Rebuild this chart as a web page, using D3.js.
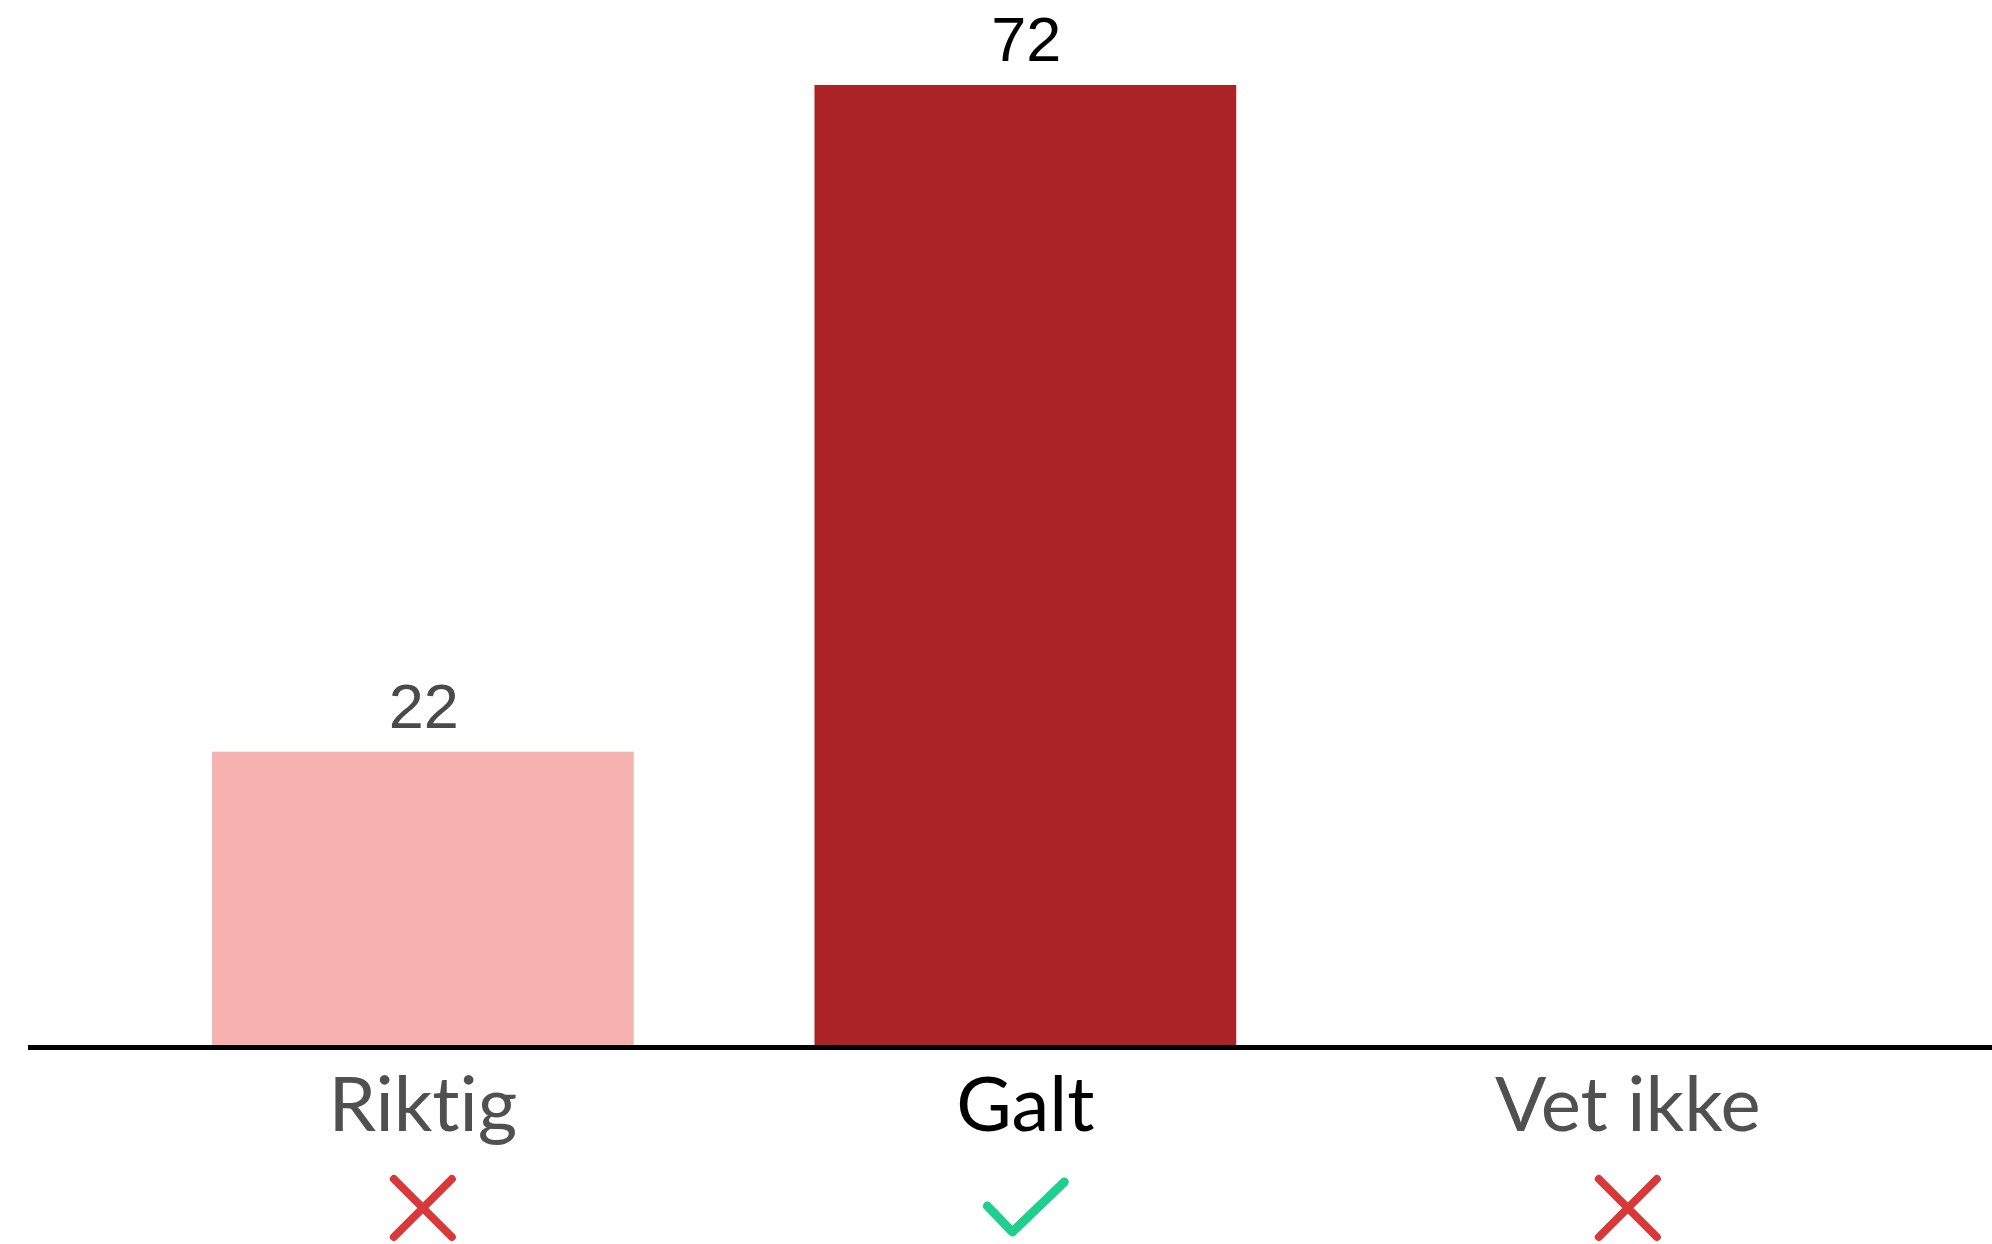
<!DOCTYPE html>
<html>
<head>
<meta charset="utf-8">
<script src="https://cdn.jsdelivr.net/npm/d3@7"></script>
<style>
  html, body { margin: 0; padding: 0; background: #ffffff; }
  svg { display: block; }
  text { font-variant-ligatures: none; font-feature-settings: "liga" 0, "clig" 0; }
</style>
</head>
<body>
<svg id="chart" width="1992" height="1244"></svg>
<script>
// Data
const categories = ["Riktig", "Galt", "Vet ikke"];
const values = [22, 72, null];
const correct = [false, true, false];

const barColors = ["#f6b1b1", "#ab2326", "#ab2326"];
const valueColors = ["#4a4a4a", "#000000", "#4a4a4a"];
const labelColors = ["#505050", "#000000", "#505050"];

const svg = d3.select("#chart");
const W = 1992;

const x = d3.scaleBand()
  .domain(categories)
  .range([121.6, 1929.1])
  .paddingInner(0.3)
  .paddingOuter(0.15);

const y = d3.scaleLinear()
  .domain([0, 72])
  .range([1045, 85]);

const data = categories.map((c, i) => ({ c, v: values[i], ok: correct[i], i }));

// Bars
svg.append("g").selectAll("rect")
  .data(data.filter(d => d.v != null))
  .join("rect")
  .attr("x", d => x(d.c))
  .attr("width", x.bandwidth())
  .attr("y", d => y(d.v))
  .attr("height", d => y(0) - y(d.v))
  .attr("fill", d => barColors[d.i]);

// Value labels
svg.append("g").selectAll("text")
  .data(data.filter(d => d.v != null))
  .join("text")
  .attr("x", d => x(d.c) + x.bandwidth() / 2 + 1)
  .attr("y", d => y(d.v) - 24)
  .attr("text-anchor", "middle")
  .attr("font-family", "'Liberation Sans', Arial, sans-serif")
  .attr("font-size", 63)
  .attr("fill", d => valueColors[d.i])
  .text(d => d.v);

// Baseline axis
const axis = d3.axisBottom(x).tickSize(0).tickFormat("");
const gAxis = svg.append("g").attr("transform", `translate(0,${y(0) + 2.5})`).call(axis);
gAxis.select(".domain").remove();
gAxis.append("line")
  .attr("x1", 28).attr("x2", W)
  .attr("y1", 0).attr("y2", 0)
  .attr("stroke", "#000").attr("stroke-width", 5);

// Category labels
svg.append("g").selectAll("text")
  .data(data)
  .join("text")
  .attr("x", d => x(d.c) + x.bandwidth() / 2)
  .attr("y", 1131)
  .attr("text-anchor", "middle")
  .attr("font-family", "Lato, 'Open Sans', sans-serif")
  .attr("font-size", 76)
  .attr("font-weight", 400)
  .attr("fill", d => labelColors[d.i])
  .text(d => d.c);

// Icons
const icons = svg.append("g").selectAll("g")
  .data(data)
  .join("g")
  .attr("transform", d => `translate(${x(d.c) + x.bandwidth() / 2},1208)`);

icons.filter(d => !d.ok).append("path")
  .attr("d", "M-29,-29L29,29M29,-29L-29,29")
  .attr("stroke", "#d8383a")
  .attr("stroke-width", 8)
  .attr("stroke-linecap", "round")
  .attr("fill", "none");

icons.filter(d => d.ok).append("path")
  .attr("d", "M-38,-2L-13,24L39,-26")
  .attr("stroke", "#1fcf8e")
  .attr("stroke-width", 9)
  .attr("stroke-linecap", "round")
  .attr("stroke-linejoin", "round")
  .attr("fill", "none");
</script>
</body>
</html>
